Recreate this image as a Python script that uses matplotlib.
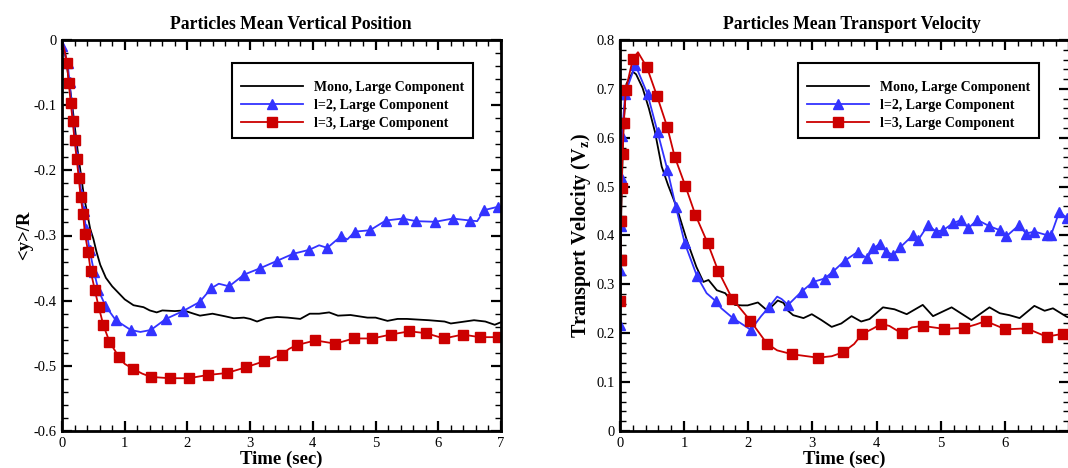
import numpy as np
import matplotlib
matplotlib.use("Agg")
import matplotlib.pyplot as plt
from matplotlib.ticker import MultipleLocator

plt.rcParams["font.family"] = ["Liberation Serif", "DejaVu Serif"]
plt.rcParams["mathtext.fontset"] = "custom"
plt.rcParams["mathtext.rm"] = "Liberation Serif"
plt.rcParams["mathtext.bf"] = "Liberation Serif:bold"

labels = ["Mono, Large Component", "l=2, Large Component", "l=3, Large Component"]

# ---- left panel: mean vertical position <y>/R ----
pos_mono_t = [0.0, 0.05, 0.1, 0.15, 0.2, 0.25, 0.3, 0.35, 0.4, 0.45, 0.5, 0.55, 0.61, 0.7, 0.8,
              0.87, 1.0, 1.14, 1.3, 1.4, 1.51, 1.6, 1.8, 1.94, 2.1, 2.2, 2.4, 2.6, 2.74, 2.9,
              3.0, 3.11, 3.25, 3.43, 3.6, 3.8, 3.95, 4.1, 4.26, 4.4, 4.6, 4.87, 5.0, 5.19,
              5.35, 5.5, 5.67, 5.85, 6.1, 6.2, 6.35, 6.57, 6.75, 6.9, 7.0]
pos_mono_v = [0.0, -0.02, -0.055, -0.09, -0.13, -0.17, -0.205, -0.24, -0.265, -0.29, -0.305,
              -0.325, -0.345, -0.365, -0.378, -0.385, -0.398, -0.407, -0.41, -0.415, -0.418,
              -0.415, -0.416, -0.415, -0.42, -0.423, -0.42, -0.424, -0.427, -0.426, -0.428,
              -0.432, -0.427, -0.425, -0.426, -0.428, -0.42, -0.42, -0.418, -0.423, -0.422,
              -0.426, -0.426, -0.431, -0.428, -0.428, -0.429, -0.43, -0.432, -0.435, -0.433,
              -0.43, -0.432, -0.437, -0.433]

pos_l2_t = [0.0, 0.09, 0.12, 0.15, 0.18, 0.21, 0.245, 0.275, 0.31, 0.345, 0.385, 0.44, 0.511,
            0.581, 0.693, 0.858, 1.097, 1.417, 1.657, 1.929, 2.195, 2.381, 2.664, 2.904, 3.165,
            3.426, 3.687, 3.942, 4.23, 4.45, 4.672, 4.91, 5.163, 5.43, 5.65, 5.95, 6.23, 6.505,
            6.734, 6.947]
pos_l2_v = [-0.009, -0.035, -0.065, -0.095, -0.125, -0.153, -0.18, -0.208, -0.236, -0.263,
            -0.29, -0.322, -0.356, -0.384, -0.408, -0.43, -0.445, -0.445, -0.428, -0.416,
            -0.402, -0.381, -0.378, -0.36, -0.35, -0.339, -0.328, -0.322, -0.319, -0.301,
            -0.294, -0.292, -0.277, -0.274, -0.278, -0.279, -0.274, -0.277, -0.261, -0.256]
pos_l2_xt = [1.25, 2.5, 4.1, 4.55, 6.62, 7.0]
pos_l2_xv = [-0.448, -0.374, -0.315, -0.306, -0.278, -0.258]

pos_l3_t = [0.08, 0.107, 0.139, 0.17, 0.2, 0.234, 0.266, 0.298, 0.336, 0.365, 0.416, 0.458,
            0.522, 0.586, 0.661, 0.757, 0.911, 1.14, 1.417, 1.716, 2.02, 2.33, 2.63, 2.94,
            3.22, 3.5, 3.75, 4.04, 4.36, 4.65, 4.95, 5.24, 5.54, 5.81, 6.09, 6.39, 6.66, 6.95]
pos_l3_v = [-0.036, -0.066, -0.096, -0.124, -0.154, -0.182, -0.211, -0.241, -0.267, -0.297,
            -0.325, -0.355, -0.383, -0.41, -0.438, -0.463, -0.487, -0.505, -0.517, -0.519,
            -0.519, -0.514, -0.511, -0.502, -0.493, -0.483, -0.468, -0.461, -0.466, -0.458,
            -0.458, -0.452, -0.447, -0.45, -0.458, -0.452, -0.456, -0.456]
pos_l3_xt = [0.01, 0.045, 1.0, 1.28, 3.62, 7.0]
pos_l3_xv = [-0.005, -0.018, -0.497, -0.512, -0.474, -0.456]

# ---- right panel: mean transport velocity ----
vel_mono_t = [0.0, 0.02, 0.05, 0.1, 0.2, 0.25, 0.352, 0.45, 0.545, 0.65, 0.75, 0.88, 1.04,
              1.19, 1.3, 1.38, 1.51, 1.64, 1.79, 1.9, 1.99, 2.15, 2.3, 2.46, 2.55, 2.62, 2.7,
              2.86, 2.99, 3.14, 3.3, 3.45, 3.61, 3.76, 3.89, 4.1, 4.28, 4.47, 4.72, 4.88, 5.17,
              5.48, 5.76, 5.92, 6.07, 6.23, 6.46, 6.62, 6.75, 6.96, 7.0]
vel_mono_v = [0.2, 0.45, 0.62, 0.71, 0.735, 0.73, 0.702, 0.66, 0.612, 0.541, 0.503, 0.459,
              0.391, 0.336, 0.305, 0.309, 0.288, 0.282, 0.258, 0.257, 0.257, 0.263, 0.246,
              0.267, 0.262, 0.246, 0.237, 0.231, 0.239, 0.227, 0.213, 0.22, 0.235, 0.224,
              0.229, 0.253, 0.249, 0.239, 0.258, 0.235, 0.253, 0.227, 0.253, 0.241, 0.237,
              0.231, 0.256, 0.246, 0.251, 0.234, 0.232]

vel_l2_t = [0.0, 0.002, 0.008, 0.02, 0.03, 0.08, 0.24, 0.43, 0.585, 0.74, 0.87, 1.01, 1.2,
            1.5, 1.76, 2.04, 2.32, 2.62, 2.83, 3.01, 3.19, 3.32, 3.5, 3.71, 3.85, 3.95, 4.05,
            4.15, 4.26, 4.37, 4.57, 4.65, 4.8, 4.93, 5.04, 5.19, 5.32, 5.43, 5.57, 5.76, 5.92,
            6.02, 6.22, 6.33, 6.46, 6.65, 6.72, 6.85, 6.97]
vel_l2_v = [0.217, 0.33, 0.42, 0.52, 0.603, 0.69, 0.749, 0.689, 0.612, 0.534, 0.459, 0.384,
            0.317, 0.265, 0.231, 0.207, 0.253, 0.258, 0.285, 0.305, 0.312, 0.326, 0.348,
            0.367, 0.353, 0.374, 0.383, 0.367, 0.36, 0.376, 0.401, 0.391, 0.421, 0.408,
            0.411, 0.425, 0.432, 0.415, 0.432, 0.419, 0.411, 0.398, 0.421, 0.404, 0.408,
            0.401, 0.401, 0.449, 0.435]
vel_l2_xt = [1.35, 1.58, 2.2, 2.45, 2.52]
vel_l2_xv = [0.282, 0.251, 0.235, 0.275, 0.27]

vel_l3_t = [0.0, 0.008, 0.015, 0.025, 0.04, 0.06, 0.09, 0.2, 0.42, 0.578, 0.734, 0.853, 1.02,
            1.176, 1.368, 1.53, 1.748, 2.03, 2.29, 2.685, 3.085, 3.476, 3.77, 4.07, 4.39, 4.72,
            5.05, 5.37, 5.7, 6.01, 6.34, 6.65, 6.91]
vel_l3_v = [0.267, 0.35, 0.43, 0.498, 0.566, 0.631, 0.698, 0.761, 0.744, 0.685, 0.623, 0.561,
            0.501, 0.442, 0.384, 0.328, 0.271, 0.226, 0.179, 0.157, 0.15, 0.161, 0.198, 0.219,
            0.2, 0.215, 0.209, 0.211, 0.225, 0.208, 0.21, 0.193, 0.199]
vel_l3_xt = [0.28, 2.45, 3.3, 3.65, 3.95, 4.2, 4.55, 5.55, 7.0]
vel_l3_xv = [0.775, 0.165, 0.153, 0.178, 0.21, 0.215, 0.212, 0.218, 0.201]

BLUE = "#3333ff"
RED = "#cc0000"


def merged(t, v, xt, xv):
    tt = np.concatenate([t, xt])
    vv = np.concatenate([v, xv])
    order = np.argsort(tt, kind="stable")
    return tt[order], vv[order]


def style_axes(ax, ymajor):
    for s in ax.spines.values():
        s.set_linewidth(2.0)
    ax.xaxis.set_major_locator(MultipleLocator(1))
    ax.xaxis.set_minor_locator(MultipleLocator(0.2))
    ax.yaxis.set_major_locator(MultipleLocator(ymajor))
    ax.yaxis.set_minor_locator(MultipleLocator(ymajor / 5))
    ax.tick_params(which="both", direction="in", top=True, right=True, labelsize=10.5, pad=4)
    ax.tick_params(which="major", length=7, width=1.6)
    ax.tick_params(which="minor", length=4, width=1.0)


def draw(ax, mono, l2, l3):
    ax.plot(mono[0], mono[1], color="k", lw=1.3, label=labels[0])
    lt, lv = merged(*l2)
    ax.plot(lt, lv, color=BLUE, lw=1.3)
    ax.plot(l2[0], l2[1], ls="none", marker="^", ms=7.5, color=BLUE)
    lt, lv = merged(*l3)
    ax.plot(lt, lv, color=RED, lw=1.3)
    ax.plot(l3[0], l3[1], ls="none", marker="s", ms=6.5, color=RED)
    # legend proxies
    ax.plot([], [], color=BLUE, lw=1.3, marker="^", ms=7.5, label=labels[1])
    ax.plot([], [], color=RED, lw=1.3, marker="s", ms=6.5, label=labels[2])


fig = plt.figure(figsize=(10.68, 4.68), dpi=100)
W, H = 1068, 468

ax1 = fig.add_axes([62 / W, (H - 431) / H, 439 / W, 391 / H])
draw(ax1, (pos_mono_t, pos_mono_v),
     (pos_l2_t, pos_l2_v, pos_l2_xt, pos_l2_xv),
     (pos_l3_t, pos_l3_v, pos_l3_xt, pos_l3_xv))
ax1.set_xlim(0, 7)
ax1.set_ylim(-0.6, 0)
style_axes(ax1, 0.1)
ax1.set_yticks(np.arange(-0.6, 0.01, 0.1))
ax1.set_yticklabels(["-0.6", "-0.5", "-0.4", "-0.3", "-0.2", "-0.1", "0"])
ax1.set_title("Particles Mean Vertical Position", fontsize=12.7, fontweight="bold",
              pad=8, x=0.522)
ax1.set_xlabel("Time (sec)", fontsize=13.5, fontweight="bold", labelpad=1)
ax1.set_ylabel("<y>/R", fontsize=13.5, fontweight="bold", labelpad=0)

ax2 = fig.add_axes([620 / W, (H - 431) / H, 449 / W, 391 / H])
draw(ax2, (vel_mono_t, vel_mono_v),
     (vel_l2_t, vel_l2_v, vel_l2_xt, vel_l2_xv),
     (vel_l3_t, vel_l3_v, vel_l3_xt, vel_l3_xv))
ax2.set_xlim(0, 7)
ax2.set_ylim(0, 0.8)
style_axes(ax2, 0.1)
ax2.set_xticks(range(8))
ax2.set_xticklabels(["0", "1", "2", "3", "4", "5", "6", ""])
ax2.set_yticks(np.arange(0, 0.81, 0.1))
ax2.set_yticklabels(["0", "0.1", "0.2", "0.3", "0.4", "0.5", "0.6", "0.7", "0.8"])
ax2.set_title("Particles Mean Transport Velocity", fontsize=12.7, fontweight="bold",
              pad=8, x=0.517)
ax2.set_xlabel("Time (sec)", fontsize=13.5, fontweight="bold", labelpad=1)
ax2.set_ylabel(r"Transport Velocity (V$_\mathbf{z}$)", fontsize=14.5, fontweight="bold",
               labelpad=2)

for ax, x0 in ((ax1, 0.936), (ax2, 0.933)):
    leg = ax.legend(loc="upper right", bbox_to_anchor=(x0, 0.941), borderaxespad=0,
                    fancybox=False, framealpha=1, edgecolor="k",
                    prop={"weight": "bold", "size": 10}, handlelength=4.5,
                    handletextpad=0.8, labelspacing=0.35, borderpad=0.6,
                    title=" ", title_fontsize=4)
    leg.get_frame().set_linewidth(1.5)

fig.savefig("out.png", dpi=100)
